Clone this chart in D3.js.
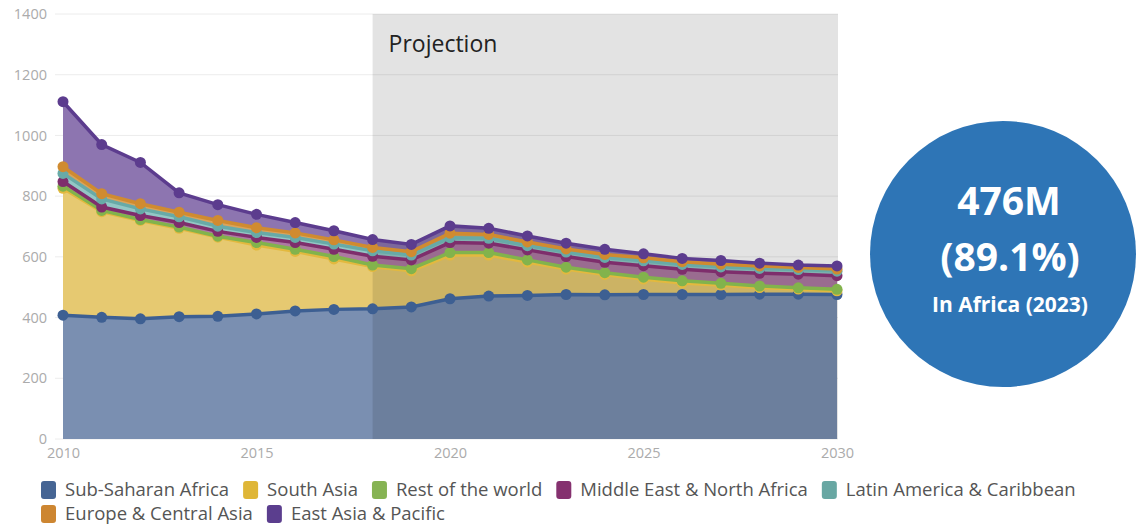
<!DOCTYPE html>
<html>
<head>
<meta charset="utf-8">
<script src="https://cdn.jsdelivr.net/npm/d3@7"></script>
<style>
  body { margin: 0; background: #fff; }
  svg text { font-family: "Open Sans", "Noto Sans", sans-serif; }
</style>
</head>
<body>
<div class="plot"></div>
<script>
// Categories and series (millions of people)
const years = [2010, 2011, 2012, 2013, 2014, 2015, 2016, 2017, 2018, 2019, 2020,
               2021, 2022, 2023, 2024, 2025, 2026, 2027, 2028, 2029, 2030];
const subSaharanAfrica = [408, 401, 396, 403, 404, 412, 422, 427, 429, 435, 462, 471, 473, 476, 475, 476, 476, 476, 477, 477, 476];
const southAsia        = [418, 348, 324, 291, 261, 227, 196, 166, 139, 119, 144, 135, 110, 84, 67, 51, 38, 31, 22, 17, 12];
const restOfWorld      = [7, 4, 3, 4, 3, 8, 7, 8, 5, 7, 8, 8, 7, 6, 6, 6, 7, 6, 5, 4, 5];
const middleEast       = [15, 11, 13, 15, 16, 17, 22, 24, 29, 29, 33, 31, 33, 35, 34, 38, 38, 38, 42, 45, 45];
const latinAmerica     = [27, 27, 22, 19, 17, 16, 17, 17, 18, 16, 16, 16, 14, 15, 16, 16, 16, 16, 16, 15, 15];
const europeCentral    = [22, 17, 17, 15, 19, 16, 15, 14, 11, 11, 15, 13, 12, 10, 10, 10, 9, 9, 8, 7, 7];
const eastAsiaPacific  = [214, 162, 136, 64, 52, 44, 34, 30, 26, 24, 24, 20, 20, 19, 17, 13, 11, 12, 9, 8, 10];

const seriesNames = ["Sub-Saharan Africa", "South Asia", "Rest of the world", "Middle East & North Africa",
                     "Latin America & Caribbean", "Europe & Central Asia", "East Asia & Pacific"];
const seriesValues = [subSaharanAfrica, southAsia, restOfWorld, middleEast, latinAmerica, europeCentral, eastAsiaPacific];
const yTicks = [0, 200, 400, 600, 800, 1000, 1200, 1400];
const xTicks = [2010, 2015, 2020, 2025, 2030];
const projectionStart = 2018;

// colours per series: line, fill, legend swatch
const lineColors   = ["#3d5f92", "#e3b93e", "#82b34c", "#7e2e6c", "#68aaa7", "#d08b30", "#5c3c8e"];
const fillColors   = ["#7a8fb1", "#e6c971", "#9cc56e", "#ad7aa2", "#93c7c5", "#dba35a", "#8d75b0"];
const swatchColors = ["#466594", "#dfb637", "#86b353", "#85316f", "#68a7a3", "#cd8631", "#5b3e8e"];

const W = 1138, H = 525;
const svg = d3.select(".plot").append("svg")
    .attr("width", W)
    .attr("height", H);

const x = d3.scaleLinear().domain([2010, 2030]).range([63, 837]);
const y = d3.scaleLinear().domain([0, 1400]).range([439, 14]);

// table for the stack
const table = years.map((yr, i) => {
    const row = {year: yr};
    seriesNames.forEach((n, k) => row[n] = seriesValues[k][i]);
    return row;
});
const stacked = d3.stack().keys(seriesNames)(table);

// gridlines
svg.append("g")
    .selectAll("line")
    .data(yTicks)
    .enter()
    .append("line")
        .attr("x1", 55)
        .attr("x2", 838)
        .attr("y1", d => y(d))
        .attr("y2", d => y(d))
        .attr("stroke", "#ececec")
        .attr("stroke-width", 1);

// y labels
const yAxis = d3.axisLeft(y).tickValues(yTicks).tickSize(0).tickPadding(0).tickFormat(d3.format("d"));
const gy = svg.append("g")
    .attr("transform", "translate(47,0)")
    .call(yAxis);
gy.select(".domain").remove();
gy.selectAll("text")
    .attr("fill", "#ababab")
    .style("font-size", "14.5px");

// x labels
const xAxis = d3.axisBottom(x).tickValues(xTicks).tickSize(0).tickPadding(0).tickFormat(d3.format("d"));
const gx = svg.append("g")
    .attr("transform", "translate(0,448)")
    .call(xAxis);
gx.select(".domain").remove();
gx.selectAll("text")
    .attr("fill", "#ababab")
    .style("font-size", "14.5px");

// areas
const area = d3.area()
    .x(d => x(d.data.year))
    .y0(d => y(d[0]))
    .y1(d => y(d[1]));

svg.append("g")
    .selectAll("path")
    .data(stacked)
    .enter()
    .append("path")
        .attr("d", area)
        .attr("fill", (d, i) => fillColors[i]);

// projection shading
svg.append("rect")
    .attr("x", x(projectionStart))
    .attr("y", y(1400))
    .attr("width", x(2030) - x(projectionStart) + 1)
    .attr("height", y(0) - y(1400))
    .attr("fill", "rgba(0,0,0,0.11)");

svg.append("text")
    .attr("x", x(projectionStart) + 16)
    .attr("y", 52)
    .attr("fill", "#222")
    .style("font-size", "23px")
    .text("Projection");

// lines and dots
const line = d3.line()
    .x(d => x(d.data.year))
    .y(d => y(d[1]));

const layers = svg.append("g")
    .selectAll("g")
    .data(stacked)
    .enter()
    .append("g");

layers.append("path")
    .attr("d", line)
    .attr("fill", "none")
    .attr("stroke", (d, i) => lineColors[i])
    .attr("stroke-width", 3.5);

layers.each(function(s, i) {
    d3.select(this).selectAll("circle")
        .data(s)
        .enter()
        .append("circle")
            .attr("cx", d => x(d.data.year))
            .attr("cy", d => y(d[1]))
            .attr("r", 5.5)
            .attr("fill", lineColors[i]);
});

// legend, two rows, flowing left to right
const legendRows = [[0, 1, 2, 3, 4], [5, 6]];
const legend = svg.append("g");
legendRows.forEach((row, r) => {
    let cx = 41;
    const top = 481 + r * 24;
    row.forEach(k => {
        legend.append("rect")
            .attr("x", cx)
            .attr("y", top)
            .attr("width", 15)
            .attr("height", 18)
            .attr("rx", 3)
            .attr("fill", swatchColors[k]);
        const t = legend.append("text")
            .attr("x", cx + 24)
            .attr("y", top + 15)
            .attr("fill", "#555")
            .style("font-size", "18.5px")
            .text(seriesNames[k]);
        cx += 24 + t.node().getComputedTextLength() + 14;
    });
});

// callout circle
const callout = svg.append("g");
callout.append("circle")
    .attr("cx", 1003)
    .attr("cy", 254)
    .attr("r", 133)
    .attr("fill", "#2e75b6");
callout.append("text")
    .attr("x", 1009)
    .attr("y", 215)
    .attr("text-anchor", "middle")
    .attr("fill", "#fff")
    .style("font-size", "39px")
    .style("font-weight", "bold")
    .text("476M");
callout.append("text")
    .attr("x", 1010)
    .attr("y", 271)
    .attr("text-anchor", "middle")
    .attr("fill", "#fff")
    .style("font-size", "39px")
    .style("font-weight", "bold")
    .text("(89.1%)");
callout.append("text")
    .attr("x", 1010)
    .attr("y", 312)
    .attr("text-anchor", "middle")
    .attr("fill", "#fff")
    .style("font-size", "21px")
    .style("font-weight", "bold")
    .text("In Africa (2023)");
</script>
</body>
</html>
